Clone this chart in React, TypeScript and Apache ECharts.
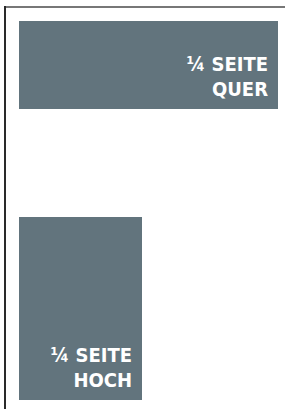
import React, { useEffect, useRef } from "react";
import * as echarts from "echarts";

// Page-unit layout of the two ad formats (page is 285 x 409 units)
const labels = ["¼ SEITE\nQUER", "¼ SEITE\nHOCH"];
const leftEdge = [19, 19];
const rightEdge = [278, 142];
const topEdge = [21, 217];
const bottomEdge = [109, 400];

const PAGE_W = 285;
const PAGE_H = 409;

export default function App() {
  const ref = useRef<HTMLDivElement>(null);
  useEffect(() => {
    if (!ref.current) return;
    const chart = echarts.init(ref.current, null, { renderer: "svg" });
    const data = labels.map((l, i) => [leftEdge[i], topEdge[i], rightEdge[i], bottomEdge[i], i]);
    chart.setOption({
      animation: false,
      grid: { left: 0, right: 0, top: 0, bottom: 0 },
      xAxis: { type: "value", min: 0, max: PAGE_W, show: false },
      yAxis: { type: "value", min: 0, max: PAGE_H, inverse: true, show: false },
      graphic: [
        { type: "line", shape: { x1: 5, y1: 7, x2: 285, y2: 7 }, style: { stroke: "#777", lineWidth: 2 } },
        { type: "line", shape: { x1: 5, y1: 6, x2: 5, y2: 409 }, style: { stroke: "#2a2a2a", lineWidth: 2 } },
      ],
      series: [
        {
          type: "custom",
          data,
          renderItem: (params: any, api: any) => {
            const p0 = api.coord([api.value(0), api.value(1)]);
            const p1 = api.coord([api.value(2), api.value(3)]);
            const idx = api.value(4);
            return {
              type: "group",
              children: [
                {
                  type: "rect",
                  shape: { x: p0[0], y: p0[1], width: p1[0] - p0[0], height: p1[1] - p0[1] },
                  style: { fill: "#62747d" },
                },
                {
                  type: "text",
                  x: p1[0] - 10,
                  y: p1[1] - 32.5,
                  style: {
                    text: labels[idx],
                    fill: "#ffffff",
                    align: "right",
                    verticalAlign: "middle",
                    fontFamily: "DejaVu Sans Condensed",
                    fontWeight: "bold",
                    fontSize: 20,
                    lineHeight: 25,
                  },
                },
              ],
            };
          },
        },
      ],
    });
    return () => chart.dispose();
  }, []);
  return (
    <div
      ref={ref}
      style={{ position: "absolute", left: 0, top: 0, width: PAGE_W, height: PAGE_H, background: "#fff" }}
    />
  );
}
